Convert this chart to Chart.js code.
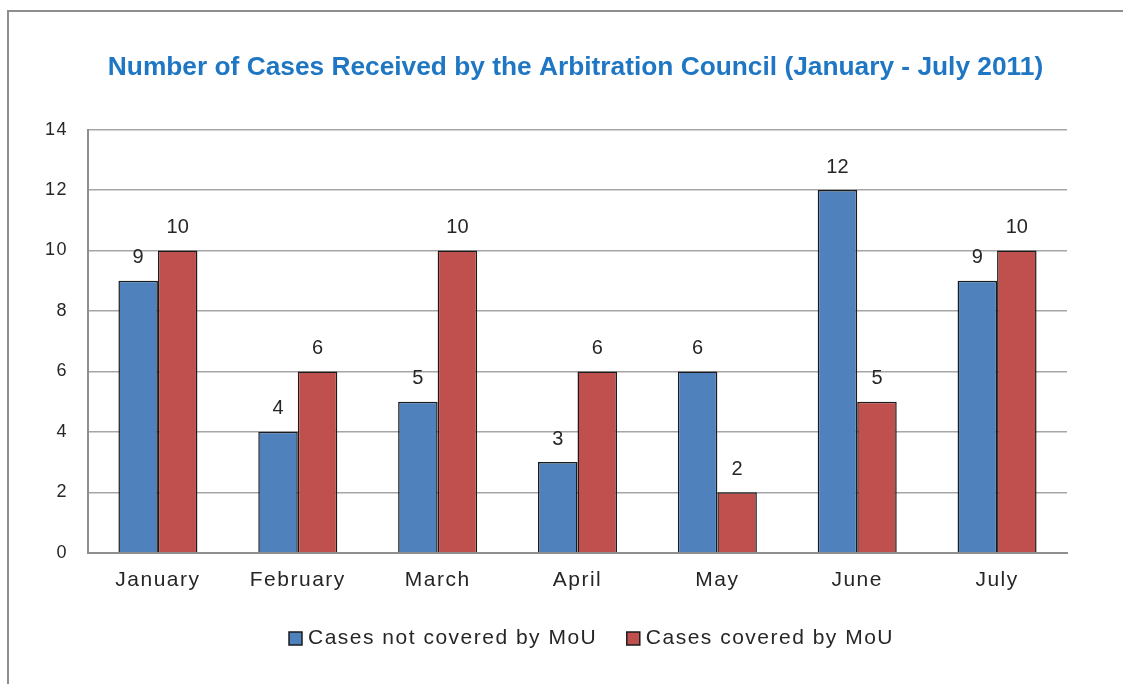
<!DOCTYPE html>
<html>
<head>
<meta charset="utf-8">
<script src="https://cdn.jsdelivr.net/npm/chart.js@4"></script>
<style>
  html, body { margin: 0; padding: 0; background: #fff; overflow: hidden; }
  #frame { position: absolute; left: 7px; top: 10px; width: 1300px; height: 900px; border: 2px solid #8e8e8e; box-sizing: border-box; }
  #wrap { position: absolute; left: 0; top: 0; width: 1123px; height: 684px; }
</style>
</head>
<body>
<div id="frame"></div>
<div id="wrap"><canvas id="c" width="1123" height="684"></canvas></div>
<script>
const categories = ["January", "February", "March", "April", "May", "June", "July"];
const notCovered = [9, 4, 5, 3, 6, 12, 9];
const covered = [10, 6, 10, 6, 2, 5, 10];
const seriesNames = ["Cases not covered by MoU", "Cases covered by MoU"];
const yTicks = [0, 2, 4, 6, 8, 10, 12, 14];
const titleText = "Number of Cases Received by the Arbitration Council (January - July 2011)";

const FONT = "'Liberation Sans', Arial, sans-serif";
const SPACING = '1.5px';
const TITLE_SHIFT_X = 27;
const LEGEND_BOX_LEFT = 289;
const LEGEND_GAP = 34;

const valueLabels = {
  id: 'valueLabels',
  afterDatasetsDraw(chart) {
    const ctx = chart.ctx;
    ctx.save();
    ctx.letterSpacing = '0px';
    ctx.font = "20px " + FONT;
    ctx.fillStyle = "#262626";
    ctx.textAlign = "center";
    ctx.textBaseline = "middle";
    chart.data.datasets.forEach((ds, i) => {
      const meta = chart.getDatasetMeta(i);
      meta.data.forEach((el, j) => {
        ctx.fillText(String(ds.data[j]), el.x, el.y - 23);
      });
    });
    ctx.restore();
  }
};

const spacing = {
  id: 'spacing',
  beforeUpdate(chart) { chart.ctx.letterSpacing = SPACING; },
  beforeDraw(chart) { chart.ctx.letterSpacing = SPACING; },
  afterUpdate(chart) {
    const t = chart.titleBlock;
    if (t && !t._wrapped) {
      const orig = t.draw;
      t.draw = function() {
        const ctx = this.ctx;
        ctx.save();
        ctx.letterSpacing = '0px';
        ctx.translate(TITLE_SHIFT_X, 0);
        orig.apply(this, arguments);
        ctx.restore();
      };
      t._wrapped = true;
    }
    const lg = chart.legend;
    if (lg && !lg._wrapped) {
      const origL = lg.draw;
      lg.draw = function() {
        const ctx = this.ctx;
        const fitPad = this.options.labels.padding;
        const bw = this.options.labels.boxWidth;
        const bh = this.options.labels.boxHeight;
        const top0 = this.top;
        this.options.labels.padding = LEGEND_GAP;
        this.top = top0 - (LEGEND_GAP - fitPad);
        const startX = (this.left + LEGEND_GAP + this.right - this.lineWidths[0]) / 2;
        const boxLeft = startX + bw / 2 - bh / 2;
        ctx.save();
        ctx.translate(LEGEND_BOX_LEFT - boxLeft, 0);
        origL.apply(this, arguments);
        ctx.restore();
        this.top = top0;
        this.options.labels.padding = fitPad;
      };
      lg._wrapped = true;
    }
  }
};

new Chart(document.getElementById('c'), {
  type: 'bar',
  data: {
    labels: categories,
    datasets: [
      { label: seriesNames[0], data: notCovered, backgroundColor: '#4F81BD', borderColor: '#1b1b1b', borderWidth: 1.5, borderSkipped: 'bottom' },
      { label: seriesNames[1], data: covered, backgroundColor: '#C0504D', borderColor: '#1b1b1b', borderWidth: 1.5, borderSkipped: 'bottom' }
    ]
  },
  options: {
    responsive: false,
    animation: false,
    devicePixelRatio: 1,
    categoryPercentage: 0.565,
    barPercentage: 1.0,
    layout: { padding: { left: 30, right: 56, top: 0, bottom: 25 } },
    plugins: {
      title: {
        display: true,
        text: titleText,
        color: '#1F77C4',
        font: { family: FONT, size: 26.3, weight: 'bold' },
        padding: { top: 52, bottom: 46 }
      },
      legend: {
        display: true,
        position: 'bottom',
        labels: {
          color: '#262626',
          font: { family: FONT, size: 21 },
          usePointStyle: true,
          pointStyle: 'rect',
          boxWidth: 4,
          boxHeight: 13,
          padding: 20,
          generateLabels(chart) {
            return chart.data.datasets.map((ds, i) => ({
              text: ds.label,
              fillStyle: ds.backgroundColor,
              strokeStyle: '#1b1b1b',
              lineWidth: 1.5,
              pointStyle: 'rect',
              hidden: false,
              datasetIndex: i,
              fontColor: '#262626'
            }));
          }
        }
      },
      tooltip: { enabled: false }
    },
    scales: {
      x: {
        grid: { display: false, drawTicks: false },
        border: { display: true, color: '#8e8e8e', width: 2 },
        ticks: { color: '#262626', font: { family: FONT, size: 21 }, padding: 15 }
      },
      y: {
        min: 0,
        max: 14,
        afterBuildTicks(scale) { scale.ticks = yTicks.map(v => ({ value: v })); },
        afterFit(scale) { scale.width = 58; },
        grid: { color: '#a6a6a6', lineWidth: 1.5, drawTicks: false },
        border: { display: true, color: '#8e8e8e', width: 2 },
        ticks: { color: '#262626', font: { family: FONT, size: 18 }, padding: 20 }
      }
    }
  },
  plugins: [valueLabels, spacing]
});
</script>
</body>
</html>
